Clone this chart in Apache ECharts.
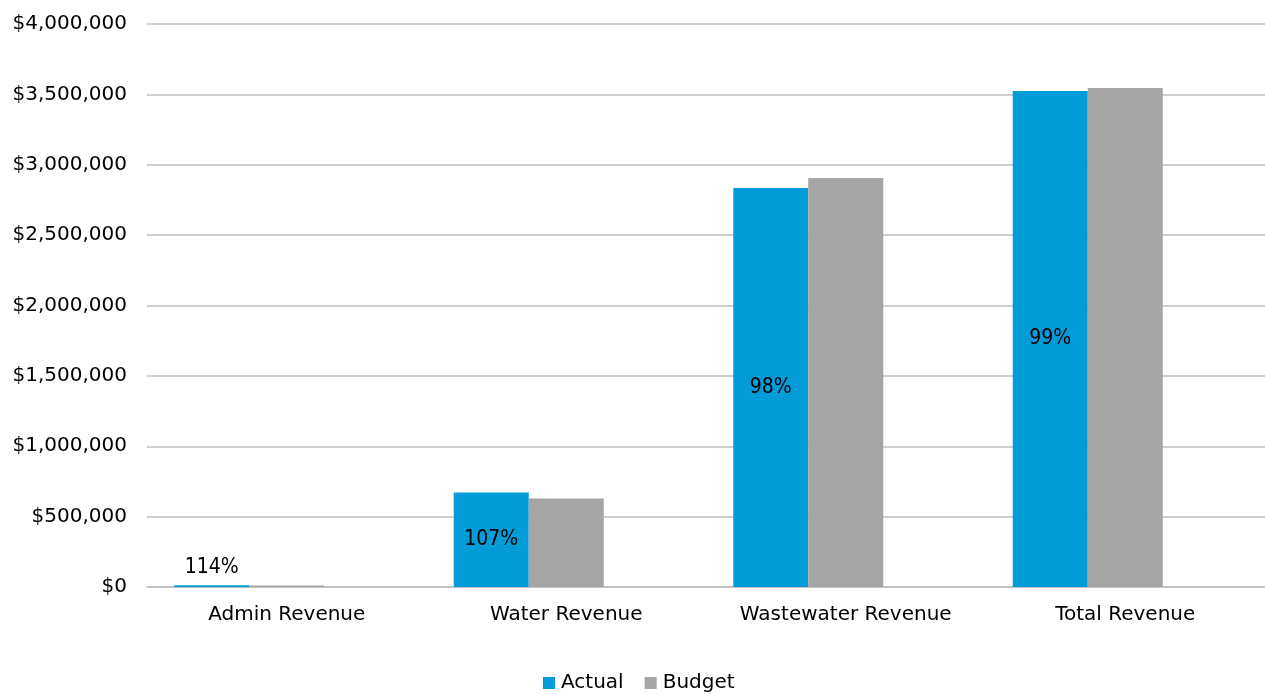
<!DOCTYPE html>
<html>
<head>
<meta charset="utf-8">
<script src="https://cdn.jsdelivr.net/npm/echarts@6/dist/echarts.min.js"></script>
<style>
  html, body { margin: 0; padding: 0; background: #fff; }
  #chart { width: 1265px; height: 694px; }
</style>
</head>
<body>
<div id="chart"></div>
<script>
// Revenue categories and amounts (USD)
const categories = ['Admin Revenue', 'Water Revenue', 'Wastewater Revenue', 'Total Revenue'];
const actual = [13000, 672000, 2834000, 3524000];
const budget = [11400, 628000, 2905000, 3545000];
const yTicks = { min: 0, max: 4000000, interval: 500000 };

const FONT = '"DejaVu Sans", sans-serif';
const LABEL_FONT = '"DejaVu Sans Condensed", "DejaVu Sans", sans-serif';
const fmtMoney = v => '$' + v.toLocaleString('en-US');

// Percent of budget achieved, shown on the Actual bars
const pctLabels = actual.map((a, i) => Math.round(a / budget[i] * 100) + '%');

const chart = echarts.init(document.getElementById('chart'));
chart.setOption({
  animation: false,
  textStyle: { fontFamily: FONT },
  grid: { left: 147, right: 0, top: 24, bottom: 107, containLabel: false },
  legend: {
    top: 673,
    left: 543,
    padding: 0,
    itemWidth: 12,
    itemHeight: 12,
    itemGap: 21,
    icon: 'rect',
    textStyle: { fontFamily: FONT, fontSize: 20, color: '#000', padding: [0, 0, 0, 1] },
    data: ['Actual', 'Budget']
  },
  xAxis: {
    type: 'category',
    data: categories,
    axisTick: { show: false },
    axisLine: { lineStyle: { color: '#BFBFBF', width: 1.5 } },
    axisLabel: { fontFamily: FONT, fontSize: 20, color: '#000', margin: 18 }
  },
  yAxis: {
    type: 'value',
    min: yTicks.min,
    max: yTicks.max,
    interval: yTicks.interval,
    axisLine: { show: false },
    axisTick: { show: false },
    splitLine: { lineStyle: { color: '#BFBFBF', width: 1.5 } },
    axisLabel: { fontFamily: FONT, fontSize: 20, color: '#000', margin: 20, formatter: fmtMoney }
  },
  series: [
    {
      name: 'Actual',
      type: 'bar',
      data: actual.map((v, i) => ({
        value: v,
        label: { position: i === 0 ? 'top' : 'inside' }
      })),
      barWidth: 75,
      barGap: '0%',
      itemStyle: { color: '#049CD8' },
      label: {
        show: true,
        formatter: p => pctLabels[p.dataIndex],
        fontFamily: LABEL_FONT,
        fontSize: 21,
        color: '#000',
        distance: 7
      }
    },
    {
      name: 'Budget',
      type: 'bar',
      data: budget,
      barWidth: 75,
      itemStyle: { color: '#A5A5A5' }
    },
    {
      // empty third slot in each group, keeps the pair left of the category centre
      name: 'spacer',
      type: 'bar',
      data: categories.map(() => '-'),
      barWidth: 75,
      silent: true
    }
  ]
});
</script>
</body>
</html>
